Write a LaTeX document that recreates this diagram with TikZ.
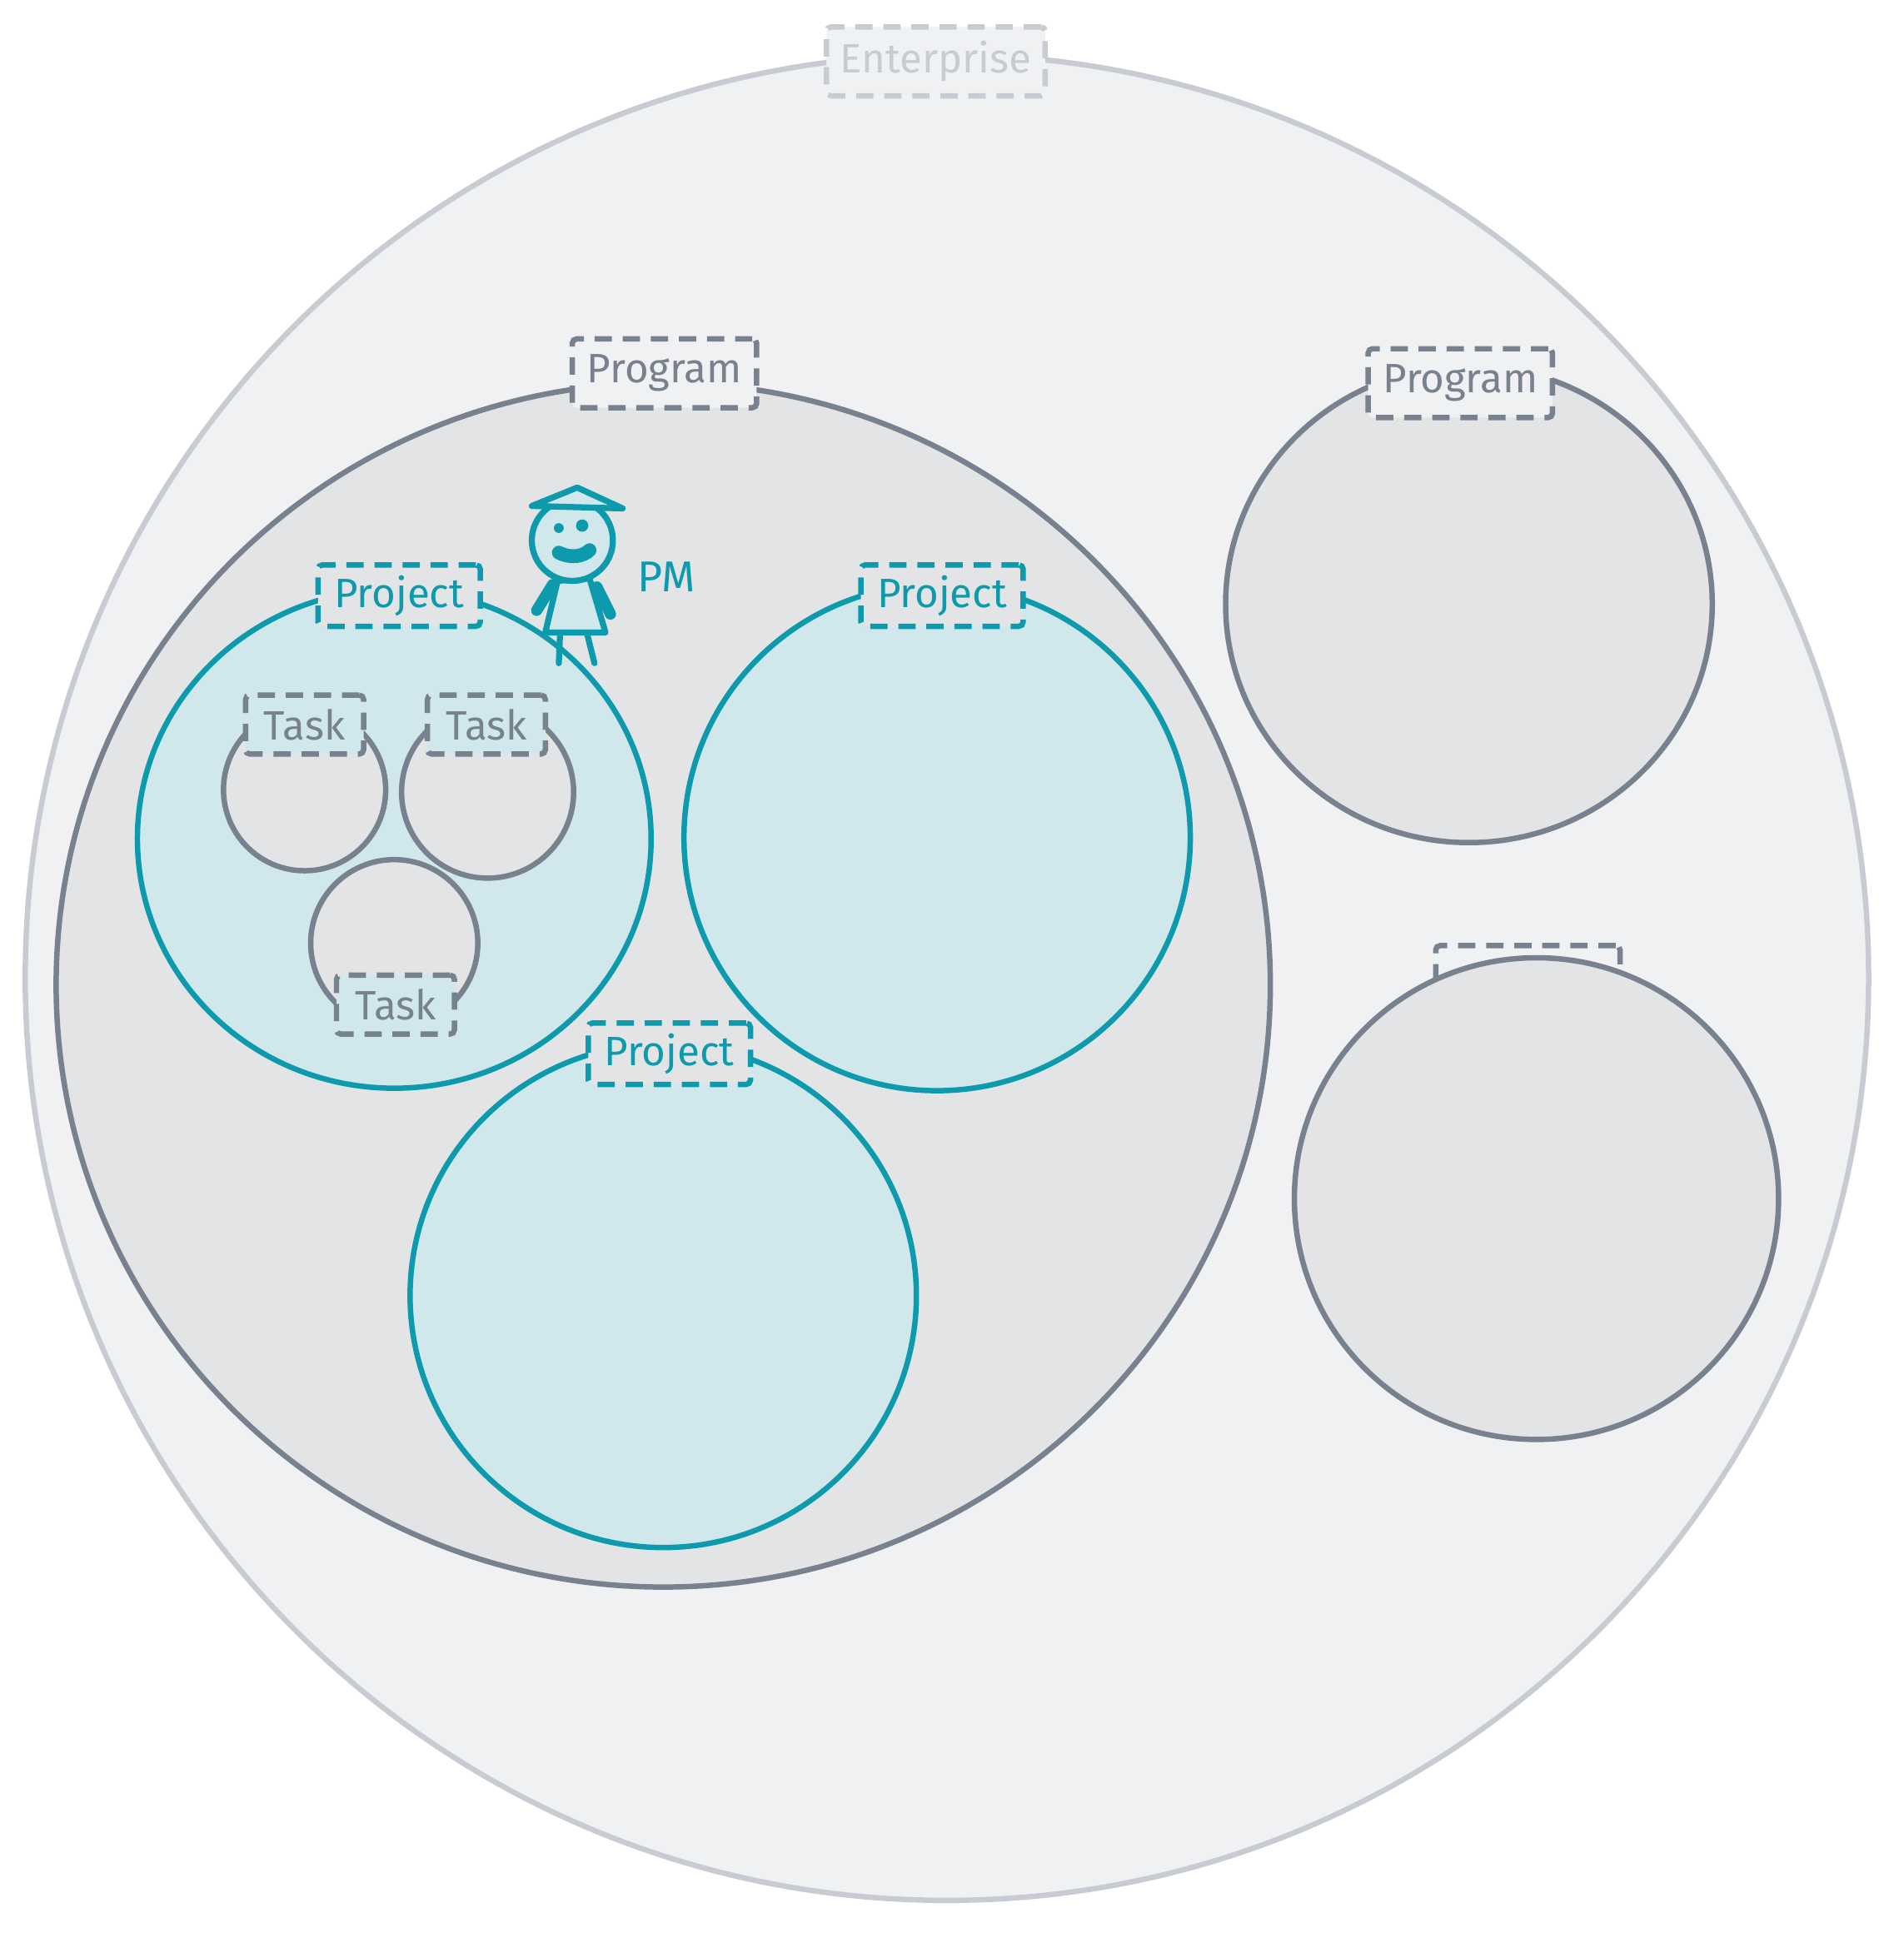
\documentclass[tikz,border=0pt]{standalone}
\usepackage{fontspec}
\setmainfont{Fira Sans}
\usetikzlibrary{shapes.geometric}
\definecolor{entfill}{HTML}{F0F1F3}
\definecolor{entline}{HTML}{C8CCD2}
\definecolor{prgfill}{HTML}{E3E4E6}
\definecolor{prgline}{HTML}{78818E}
\definecolor{prjfill}{HTML}{D0E7EC}
\definecolor{prjline}{HTML}{0E9AAD}
\tikzset{
  area/.style={ellipse, inner sep=0pt, line width=1.25pt},
  enterprise/.style={area, fill=entfill, draw=entline},
  program/.style={area, fill=prgfill, draw=prgline},
  project/.style={area, fill=prjfill, draw=prjline},
  task/.style={area, fill=prgfill, draw=prgline},
  tag/.style={draw, line width=1.25pt, dash pattern=on 4pt off 2.5pt, rounded corners=1pt,
    font=\fontsize{9.5}{10}\selectfont, inner sep=0pt, minimum height=0.5cm},
  person/.style={draw=prjline, line width=1.4pt, line cap=round, line join=round}
}
\begin{document}
\begin{tikzpicture}[x=0.01cm, y=-0.01cm]
    \useasboundingbox (0,0) rectangle (1550,1574);
    % Enterprise
    \node[enterprise, minimum width=15cm, minimum height=15.02cm] (ent) at (771,796) {};
    \node[tag, draw=entline, text=entline, fill=entfill, minimum width=1.78cm, minimum height=0.56cm] (entTag) at (762,50) {Enterprise};
    % Programs
    \node[program, minimum width=9.88cm, minimum height=9.8cm] (prgA) at (540,802) {};
    \node[tag, draw=prgline, text=prgline, fill=entfill, minimum width=1.5cm, minimum height=0.56cm] (prgATag) at (541,304) {Program};
    \node[program, minimum width=3.96cm, minimum height=3.88cm] (prgB) at (1196,492) {};
    \node[tag, draw=prgline, text=prgline, fill=entfill, minimum width=1.5cm, minimum height=0.56cm] (prgBTag) at (1189,312) {Program};
    \node[tag, draw=prgline, fill=entfill, minimum width=1.5cm, minimum height=0.56cm] (prgCTag) at (1244,798) {};
    \node[program, minimum width=3.94cm, minimum height=3.92cm] (prgC) at (1251,976) {};
    % Projects
    \node[project, minimum width=4.18cm, minimum height=4.06cm] (prjA) at (321,683) {};
    \node[tag, draw=prjline, text=prjline, fill=prgfill, minimum width=1.32cm] (prjATag) at (325,485) {Project};
    \node[project, minimum width=4.12cm, minimum height=4.12cm] (prjB) at (763,682) {};
    \node[tag, draw=prjline, text=prjline, fill=prgfill, minimum width=1.32cm] (prjBTag) at (767,485) {Project};
    \node[project, minimum width=4.12cm, minimum height=4.1cm] (prjC) at (540,1055) {};
    \node[tag, draw=prjline, text=prjline, fill=prgfill, minimum width=1.32cm] (prjCTag) at (545,858) {Project};
    % Tasks
    \node[task, minimum size=1.32cm] (tskA) at (248,643) {};
    \node[tag, draw=prgline, text=prgline, fill=prjfill, minimum width=0.96cm, minimum height=0.48cm] (tskATag) at (248,590) {Task};
    \node[task, minimum size=1.4cm] (tskB) at (397,645) {};
    \node[tag, draw=prgline, text=prgline, fill=prjfill, minimum width=0.96cm, minimum height=0.48cm] (tskBTag) at (396,590) {Task};
    \node[task, minimum size=1.36cm] (tskC) at (321,768) {};
    \node[tag, draw=prgline, text=prgline, fill=prjfill, minimum width=0.96cm, minimum height=0.48cm] (tskCTag) at (322,818) {Task};
    % PM
    \draw[person, fill=prjfill] (454,473) -- (480,471) -- (493,515) -- (444,515) -- cycle;
    \draw[person, line width=2.6pt] (450,476) -- (437,497);
    \draw[person, line width=2.6pt] (486,478) -- (497,500);
    \draw[person] (456,516) -- (455,540) (478,516) -- (484,540);
    \node[circle, person, fill=prjfill, minimum size=0.66cm, inner sep=0pt] (head) at (466,440) {};
    \draw[person, fill=prjfill] (433,412) -- (470,397) -- (507,414) -- cycle;
    \fill[prjline] (455,430) circle (4) (474,428) circle (5);
    \draw[prjline, line width=3.2pt, line cap=round] (455,450) .. controls (465,455) and (475,453) .. (480,448);
    \node[text=prjline, font=\fontsize{10}{11}\selectfont, anchor=west] (pmLabel) at (507,470) {PM};
\end{tikzpicture}
\end{document}
